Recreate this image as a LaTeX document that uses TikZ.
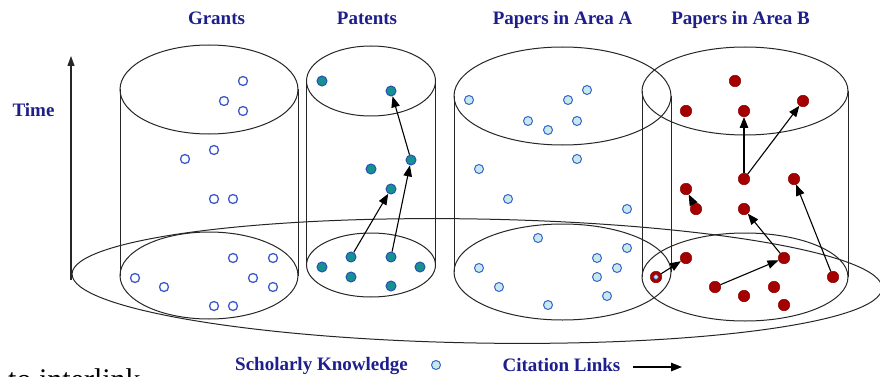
\documentclass[tikz,border=0pt]{standalone}
\usepackage{fontspec}
\setmainfont{Liberation Serif}
\usetikzlibrary{arrows.meta}
\definecolor{ttl}{RGB}{30,30,140}
\definecolor{gstroke}{RGB}{60,90,200}
\definecolor{pfill}{RGB}{22,145,145}
\definecolor{pstroke}{RGB}{40,80,180}
\definecolor{afill}{RGB}{200,232,238}
\definecolor{astroke}{RGB}{55,100,200}
\definecolor{bred}{RGB}{165,0,0}
\tikzset{
 outline/.style={draw=black!85, line width=1pt},
 gdot/.style={circle, draw=gstroke, line width=1.3pt, minimum size=9pt, inner sep=0pt, fill=white},
 pdot/.style={circle, draw=pstroke, fill=pfill, line width=1pt, minimum size=10pt, inner sep=0pt},
 adot/.style={circle, draw=astroke, fill=afill, line width=1pt, minimum size=9pt, inner sep=0pt},
 bdot/.style={circle, fill=bred, draw=bred!85!black, line width=0.5pt, minimum size=11.5pt, inner sep=0pt},
 link/.style={-{Triangle[length=11pt,width=8.5pt]}, line width=1.1pt, black},
 ttlstyle/.style={text=ttl, font=\fontsize{19}{21}\selectfont\bfseries, anchor=base, inner sep=0pt},
}
\begin{document}
\begin{tikzpicture}[x=1pt,y=-1pt]
\useasboundingbox (0,0) rectangle (880,377);
\clip (0,0) rectangle (880,377);
\fill[white] (0,0) rectangle (880,377);

% base ellipse
\draw[outline, rotate around={-1:(477,281)}] (477,281) ellipse [x radius=405pt, y radius=62pt];

% Grants cylinder
\draw[outline] (209,89.5) ellipse [x radius=89pt, y radius=44.5pt];
\draw[outline] (209,275.5) ellipse [x radius=89pt, y radius=43.5pt];
\draw[outline] (120,89.5) -- (120,275.5) (298,89.5) -- (298,275.5);
% Patents cylinder
\draw[outline] (371,81) ellipse [x radius=64.5pt, y radius=35pt];
\draw[outline] (371,265) ellipse [x radius=64.5pt, y radius=32pt];
\draw[outline] (306.5,81) -- (306.5,265) (435.5,81) -- (435.5,265);
% Area A cylinder
\draw[outline] (562.5,96) ellipse [x radius=108.5pt, y radius=49pt];
\draw[outline] (562.5,272) ellipse [x radius=108.5pt, y radius=48pt];
\draw[outline] (454,96) -- (454,272) (671,96) -- (671,272);
% Area B cylinder
\draw[outline] (745,91) ellipse [x radius=103pt, y radius=44pt];
\draw[outline] (745,277) ellipse [x radius=103pt, y radius=44pt];
\draw[outline] (642,91) -- (642,277) (848,91) -- (848,277);

% time axis
\coordinate (axb) at (71,280);
\coordinate (axt) at (71,56);
\draw[-{Triangle[length=10pt,width=7pt]}, line width=1.1pt, black!85] (axb) -- (axt);

% Grants dots
\foreach \n/\x/\y in {1/243/81,2/224/101,3/243/111,4/214/150,5/185/159,6/214/199,7/233/199,8/233/258,9/273/258,10/135/278,11/253/278,12/164/287,13/273/287,14/214/306,15/233/306}
  \node[gdot] (g\n) at (\x,\y) {};
% Patents dots
\foreach \n/\x/\y in {1/322/81,2/391/91,3/411/160,4/371/169,5/391/189,6/351/257,7/391/257,8/322/267,9/420/267,10/351/277,11/391/286}
  \node[pdot] (p\n) at (\x,\y) {};
% Area A dots
\foreach \n/\x/\y in {1/469/100,2/568/100,3/587/90,4/528/121,5/577/121,6/548/130,7/577/159,8/479/169,9/508/199,10/627/209,11/538/238,12/627/248,13/597/258,14/479/268,15/617/268,16/597/277,17/499/287,18/607/296,19/548/305}
  \node[adot] (a\n) at (\x,\y) {};
% Area B dots
\foreach \n/\x/\y in {1/735/81,2/686/111,3/744/111,4/803/101,5/744/179,6/794/179,7/686/189,8/696/209,9/744/209,10/686/258,11/784/258,12/656/277,13/833/277,14/715/287,15/774/287,16/744/296,17/784/305}
  \node[bdot] (b\n) at (\x,\y) {};
\node[circle, fill=afill, draw=astroke, line width=0.6pt, minimum size=4.5pt, inner sep=0pt] (b12in) at (b12) {};

% citation links
\draw[link] (p6) -- (p5);
\draw[link] (p7) -- (p3);
\draw[link] (p3) -- (p2);
\draw[link] (b5) -- (b3);
\draw[link] (b5) -- (b4);
\draw[link] (b8) -- (b7);
\draw[link] (b11) -- (b9);
\draw[link] (b13) -- (b6);
\draw[link] (b14) -- (b11);
\draw[link] (b12) -- (b10);

% titles
\node[ttlstyle] (tg) at (216.5,25) {Grants};
\node[ttlstyle] (tp) at (367,25) {Patents};
\node[ttlstyle] (ta) at (562.5,25) {Papers in Area A};
\node[ttlstyle] (tb) at (740.5,25) {Papers in Area B};
\node[ttlstyle] (tt) at (33.5,117) {Time};

% legend
\node[ttlstyle] (lk) at (321.5,370) {Scholarly Knowledge};
\node[adot] (ld) at (436,365) {};
\node[ttlstyle] (lc) at (561.5,371) {Citation Links};
\coordinate (la1) at (633,367);
\coordinate (la2) at (682,367);
\draw[link] (la1) -- (la2);

\node[anchor=base west, inner sep=0pt, font=\fontsize{30}{34}\selectfont] (ti) at (8,389) {to interlink};
\end{tikzpicture}
\end{document}
